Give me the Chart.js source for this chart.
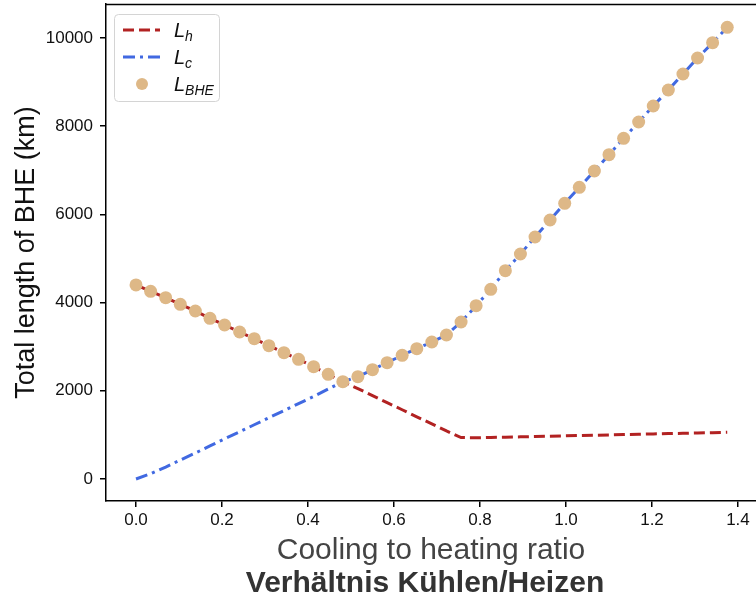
<!DOCTYPE html>
<html>
<head>
<meta charset="utf-8">
<title>Total length of BHE</title>
<script src="https://cdn.jsdelivr.net/npm/chart.js@4/dist/chart.umd.min.js"></script>
<style>
    html, body { margin: 0; padding: 0; background: #ffffff; }
    #wrap { position: relative; width: 756px; height: 600px; }
</style>
</head>
<body>
<div id="wrap"><canvas id="bheChart" width="756" height="600"></canvas></div>
<script>
// Cooling to heating ratio (x)
const ratio = [0, 0.034, 0.069, 0.103, 0.138, 0.172, 0.206, 0.241, 0.275, 0.309,
    0.344, 0.378, 0.413, 0.447, 0.481, 0.516, 0.55, 0.584, 0.619, 0.653,
    0.688, 0.722, 0.756, 0.791, 0.825, 0.859, 0.894, 0.928, 0.963, 0.997,
    1.031, 1.066, 1.1, 1.134, 1.169, 1.203, 1.238, 1.272, 1.306, 1.341, 1.375];

// L_h - length needed for heating (km)
const lengthHeating = [4400, 4256, 4111, 3961, 3810, 3643, 3492, 3333, 3182, 3023,
    2864, 2714, 2547, 2374, 2206, 2050, 1890, 1730, 1570, 1410,
    1250, 1090, 940, 935, 942, 949, 956, 964, 971, 978,
    985, 993, 1000, 1007, 1014, 1022, 1029, 1036, 1044, 1051, 1058];

// L_c - length needed for cooling (km)
const lengthCooling = [0, 120, 270, 430, 590, 750, 910, 1070, 1230, 1390,
    1550, 1710, 1870, 2040, 2206, 2320, 2479, 2637, 2805, 2955,
    3107, 3265, 3560, 3930, 4300, 4723, 5102, 5487, 5873, 6251,
    6614, 6984, 7354, 7725, 8095, 8458, 8821, 9184, 9546, 9893, 10242];

// L_BHE - resulting length (km)
const lengthBHE = [4400, 4256, 4111, 3961, 3810, 3643, 3492, 3333, 3182, 3023,
    2864, 2714, 2547, 2374, 2206, 2320, 2479, 2637, 2805, 2955,
    3107, 3265, 3560, 3930, 4300, 4723, 5102, 5487, 5873, 6251,
    6614, 6984, 7354, 7725, 8095, 8458, 8821, 9184, 9546, 9893, 10242];

const xTicks = [0, 0.2, 0.4, 0.6, 0.8, 1.0, 1.2, 1.4];
const yTicks = [0, 2000, 4000, 6000, 8000, 10000];

const FONTE = "'Liberation Sans', Arial, Helvetica, sans-serif";
const COR_H = '#b22222';
const COR_C = '#4169e1';
const COR_BHE = '#deb887';

document.addEventListener('DOMContentLoaded', function() {
    inicializarGrafico();
});

function pontos(valores) {
    return ratio.map((x, i) => ({ x: x, y: valores[i] }));
}

// plugin: top spine, legend with subscripts and the bold German subtitle
const extras = {
    id: 'extras',
    afterDraw(chart) {
        const ctx = chart.ctx;
        const area = chart.chartArea;
        ctx.save();

        // linha superior
        ctx.strokeStyle = '#000';
        ctx.lineWidth = 1.5;
        ctx.beginPath();
        ctx.moveTo(area.left - 0.75, area.top + 0.5);
        ctx.lineTo(area.right, area.top + 0.5);
        ctx.stroke();

        // legenda
        const bx = area.left + 8, by = area.top + 10, bw = 105, bh = 87;
        ctx.beginPath();
        ctx.roundRect(bx + 0.5, by + 0.5, bw, bh, 4);
        ctx.fillStyle = 'rgba(255,255,255,0.85)';
        ctx.fill();
        ctx.strokeStyle = '#d4d4d4';
        ctx.lineWidth = 1;
        ctx.stroke();

        const itens = [
            { sub: 'h', tipo: 'line', cor: COR_H, dash: [11, 5] },
            { sub: 'c', tipo: 'line', cor: COR_C, dash: [12, 5, 3, 5] },
            { sub: 'BHE', tipo: 'dot', cor: COR_BHE }
        ];
        itens.forEach((item, i) => {
            const y = by + 16 + i * 27;
            if (item.tipo === 'line') {
                ctx.strokeStyle = item.cor;
                ctx.lineWidth = 3;
                ctx.setLineDash(item.dash);
                ctx.beginPath();
                ctx.moveTo(bx + 9, y);
                ctx.lineTo(bx + 46, y);
                ctx.stroke();
                ctx.setLineDash([]);
            } else {
                ctx.fillStyle = item.cor;
                ctx.beginPath();
                ctx.arc(bx + 28, y, 6, 0, Math.PI * 2);
                ctx.fill();
            }
            ctx.fillStyle = '#111';
            ctx.textAlign = 'left';
            ctx.textBaseline = 'alphabetic';
            ctx.font = 'italic 20px ' + FONTE;
            ctx.fillText('L', bx + 60, y + 7);
            const w = ctx.measureText('L').width;
            ctx.font = 'italic 14px ' + FONTE;
            ctx.fillText(item.sub, bx + 60 + w, y + 11);
        });

        // subtitulo em alemao
        ctx.fillStyle = '#333';
        ctx.font = 'bold 30px ' + FONTE;
        ctx.textAlign = 'center';
        ctx.textBaseline = 'middle';
        ctx.fillText('Verhältnis Kühlen/Heizen', (area.left + area.right) / 2 - 6, 584);
        ctx.restore();
    }
};

function inicializarGrafico() {
    const ctx = document.getElementById('bheChart').getContext('2d');

    new Chart(ctx, {
        type: 'line',
        data: {
            datasets: [{
                label: 'L_h',
                data: pontos(lengthHeating),
                borderColor: COR_H,
                borderWidth: 3,
                borderDash: [11, 5],
                pointRadius: 0,
                tension: 0,
                fill: false,
                order: 3
            }, {
                label: 'L_c',
                data: pontos(lengthCooling),
                borderColor: COR_C,
                borderWidth: 3,
                borderDash: [12, 5, 3, 5],
                pointRadius: 0,
                tension: 0,
                fill: false,
                order: 2
            }, {
                label: 'L_BHE',
                data: pontos(lengthBHE),
                showLine: false,
                pointRadius: 6.5,
                pointBackgroundColor: COR_BHE,
                pointBorderWidth: 0,
                order: 1
            }]
        },
        options: {
            responsive: false,
            animation: false,
            layout: { autoPadding: false, padding: { top: 4, left: 0, right: 0, bottom: 0 } },
            plugins: {
                legend: { display: false },
                tooltip: { enabled: false },
                title: { display: false }
            },
            scales: {
                x: {
                    type: 'linear',
                    min: -0.0698,
                    max: 1.4419,
                    afterBuildTicks: function(scale) {
                        scale.ticks = xTicks.map(v => ({ value: v }));
                    },
                    afterFit: function(scale) {
                        scale.height = 99;
                        scale.paddingLeft = 0;
                        scale.paddingRight = 0;
                    },
                    border: { display: true, color: '#000', width: 1.5 },
                    grid: { drawOnChartArea: false, drawTicks: true, tickLength: 6, color: '#000', lineWidth: 1.5 },
                    ticks: {
                        color: '#111',
                        padding: 3,
                        maxRotation: 0,
                        font: { family: FONTE, size: 17 },
                        callback: function(value) {
                            return value.toFixed(1);
                        }
                    },
                    title: {
                        display: true,
                        text: 'Cooling to heating ratio',
                        color: '#444',
                        font: { family: FONTE, size: 30 },
                        padding: { top: 0, bottom: 31 }
                    }
                },
                y: {
                    type: 'linear',
                    min: -499,
                    max: 10771,
                    afterBuildTicks: function(scale) {
                        scale.ticks = yTicks.map(v => ({ value: v }));
                    },
                    afterFit: function(scale) {
                        scale.width = 106;
                        scale.paddingTop = 0;
                        scale.paddingBottom = 0;
                    },
                    border: { display: true, color: '#000', width: 1.5 },
                    grid: { drawOnChartArea: false, drawTicks: true, tickLength: 6, color: '#000', lineWidth: 1.5 },
                    ticks: {
                        color: '#111',
                        padding: 7,
                        font: { family: FONTE, size: 17 },
                        callback: function(value) {
                            return String(value);
                        }
                    },
                    title: {
                        display: true,
                        text: 'Total length of BHE (km)',
                        color: '#111',
                        font: { family: FONTE, size: 27 },
                        padding: { top: 10, bottom: 0 }
                    }
                }
            }
        },
        plugins: [extras]
    });
}
</script>
</body>
</html>
